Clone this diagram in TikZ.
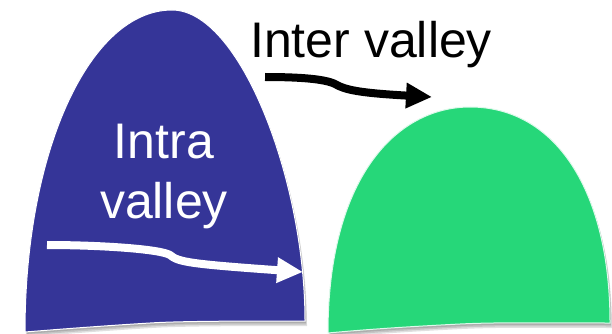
\documentclass[tikz,border=0pt]{standalone}
\usepackage{fontspec}
\setmainfont{Liberation Sans}
\usetikzlibrary{arrows.meta}
\definecolor{valblue}{RGB}{53,53,152}
\definecolor{valgreen}{RGB}{38,215,121}
\begin{document}
\begin{tikzpicture}[x=1pt,y=-1pt,
  lbl/.style={inner sep=0pt,font=\fontsize{50}{60}\selectfont},
  shadowfill/.style={fill=black,opacity=0.12},
  bigarrow/.style={line width=8pt,-{Triangle[length=26pt,width=24pt]}}]
\useasboundingbox (0,0) rectangle (612,334);
% blue valley shape
\def\bluepath{(25,332) .. controls (25,150) and (90,10) .. (172,10)
   .. controls (240,10) and (305,180) .. (305,321)
   .. controls (250,321) and (180,321) .. (150,323)
   .. controls (100,326) and (50,330) .. (25,332) -- cycle}
\def\greenpath{(328,333) .. controls (328,180) and (395,107) .. (470,107)
   .. controls (555,107) and (610,190) .. (610,323)
   .. controls (560,323) and (500,322) .. (460,324)
   .. controls (400,327) and (360,330) .. (328,333) -- cycle}
\foreach \d in {2,3.5,5}{
  \fill[shadowfill,shift={(\d*0.4,\d)}] \bluepath;
  \fill[shadowfill,shift={(\d*0.4,\d)}] \greenpath;
}
\fill[valblue,draw=white,line width=1pt] \bluepath;
\fill[valgreen,draw=white!85!valgreen,line width=1pt] \greenpath;
% labels
\node[lbl,anchor=base west] (inter) at (250,58) {Inter valley};
\node[lbl,anchor=base,text=white] (intra1) at (164,158) {Intra};
\node[lbl,anchor=base,text=white] (intra2) at (164,218) {valley};
% arrows
\coordinate (b0) at (265,77);
\coordinate (b1) at (432,97);
\coordinate (w0) at (47,245);
\coordinate (w1) at (303,272);
\draw[bigarrow,black] (b0) .. controls (300,77) and (325,79) .. (335,84)
   .. controls (345,90) and (360,93) .. (b1);
\draw[bigarrow,white] (w0) .. controls (100,245) and (160,249) .. (170,255)
   .. controls (178,262) and (190,264) .. (w1);
\end{tikzpicture}
\end{document}
